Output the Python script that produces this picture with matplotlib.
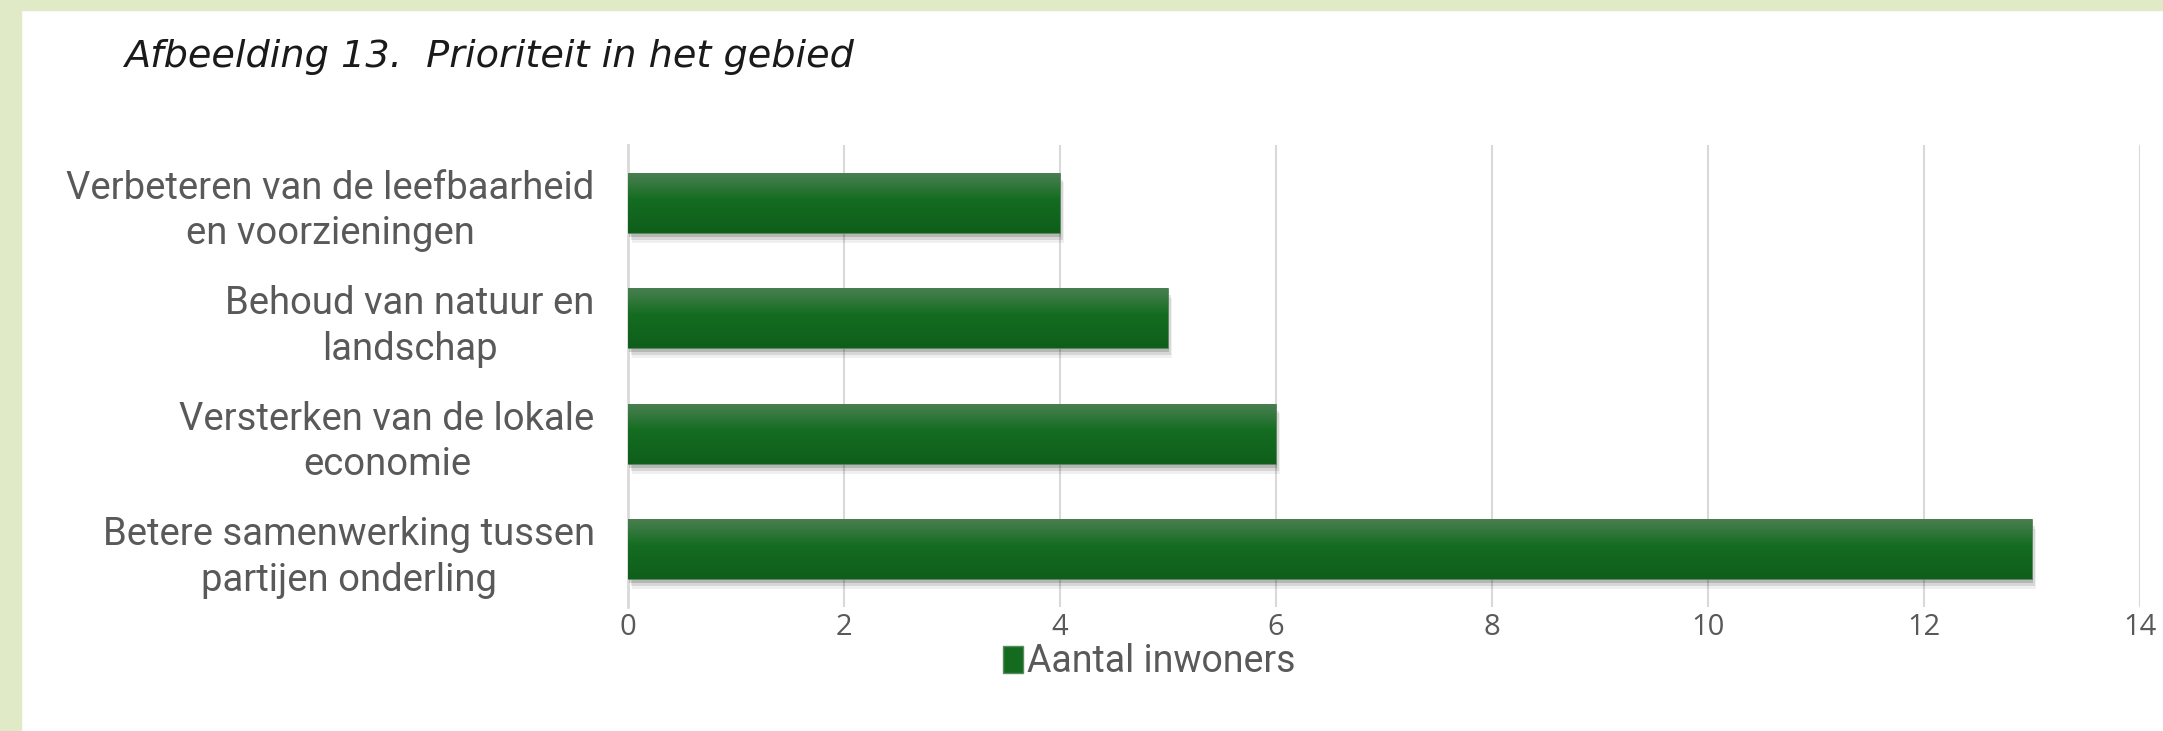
import matplotlib.pyplot as plt
import numpy as np
from matplotlib.colors import LinearSegmentedColormap
from matplotlib.patches import Patch
import matplotlib.patheffects as pe

# Data
categories = ['Verbeteren van de leefbaarheid\nen voorzieningen',
              'Behoud van natuur en\nlandschap',
              'Versterken van de lokale\neconomie',
              'Betere samenwerking tussen\npartijen onderling']
values = [4, 5, 6, 13]
series_name = 'Aantal inwoners'
xticks = [0, 2, 4, 6, 8, 10, 12, 14]

# Colours
bar_green = '#146b20'
grey_text = '#595959'
grid_grey = '#d9d9d9'
border_green = '#e0eac6'
grad = LinearSegmentedColormap.from_list(
    'bargrad', [(0.0, '#4a7f52'), (0.15, '#3a7a43'), (0.45, '#146c21'), (1.0, '#0f5e1b')])

label_font = ['Roboto', 'DejaVu Sans']
tick_font = ['Open Sans', 'DejaVu Sans']

fig = plt.figure(figsize=(21.63, 7.31), dpi=100)
fig.patch.set_facecolor('white')

# light green page border (top and left)
fig.patches.append(plt.Rectangle((0, 1 - 10 / 731), 1, 10 / 731, transform=fig.transFigure,
                                 color=border_green, zorder=0))
fig.patches.append(plt.Rectangle((0, 0), 21 / 2163, 1, transform=fig.transFigure,
                                 color=border_green, zorder=0))

# title
fig.text(124 / 2163, 1 - 57 / 731, 'Afbeelding 13.  Prioriteit in het gebied',
         fontsize=27.5, style='italic', family='DejaVu Sans', color='#1a1a1a',
         ha='left', va='center')

ax = fig.add_axes([628 / 2163, 124 / 731, 1512 / 2163, 462 / 731])

y = np.arange(len(categories))
shadow = [pe.SimplePatchShadow(offset=(3, -7), shadow_rgbFace='black', alpha=0.06),
          pe.SimplePatchShadow(offset=(2, -5), shadow_rgbFace='black', alpha=0.10),
          pe.SimplePatchShadow(offset=(1, -3), shadow_rgbFace='black', alpha=0.15),
          pe.Normal()]
bars = ax.barh(y, values, height=0.52, color=bar_green, edgecolor='#5a8a60',
               linewidth=0.6, zorder=3, path_effects=shadow)

# vertical gradient on each bar
gradient = np.linspace(0, 1, 256).reshape(-1, 1)
for b in bars:
    x0, y0, w, h = b.get_x(), b.get_y(), b.get_width(), b.get_height()
    im = ax.imshow(gradient, cmap=grad, aspect='auto', origin='upper',
                   extent=(x0, x0 + w, y0 + h, y0), zorder=4)
    im.set_clip_path(b)

ax.set_xlim(0, 14)
ax.set_ylim(len(categories) - 0.5, -0.5)

ax.set_yticks(y)
ax.set_yticklabels(categories, multialignment='center', family=label_font,
                   fontsize=27.5, color=grey_text, linespacing=1.3)
ax.set_xticks(xticks)
ax.set_xticklabels([str(t) for t in xticks], family=tick_font, fontsize=21, color=grey_text)
ax.tick_params(axis='y', length=0, pad=24)
ax.tick_params(axis='x', length=0, pad=4)

ax.grid(axis='x', color=grid_grey, linewidth=1.5, zorder=0)
ax.set_axisbelow(True)
for s in ['top', 'right', 'bottom']:
    ax.spines[s].set_visible(False)
ax.spines['left'].set_color(grid_grey)
ax.spines['left'].set_linewidth(2)

# legend
handle = Patch(facecolor=bar_green, edgecolor='#5a8a60', label=series_name)
fig.legend(handles=[handle], loc='center', bbox_to_anchor=(1149 / 2163, 1 - 662 / 731),
           frameon=False, handlelength=0.55, handleheight=0.7, handletextpad=0.1,
           borderpad=0.1, prop={'family': label_font, 'size': 27}, labelcolor=grey_text)

fig.savefig('out.png', dpi=100, facecolor='white')
